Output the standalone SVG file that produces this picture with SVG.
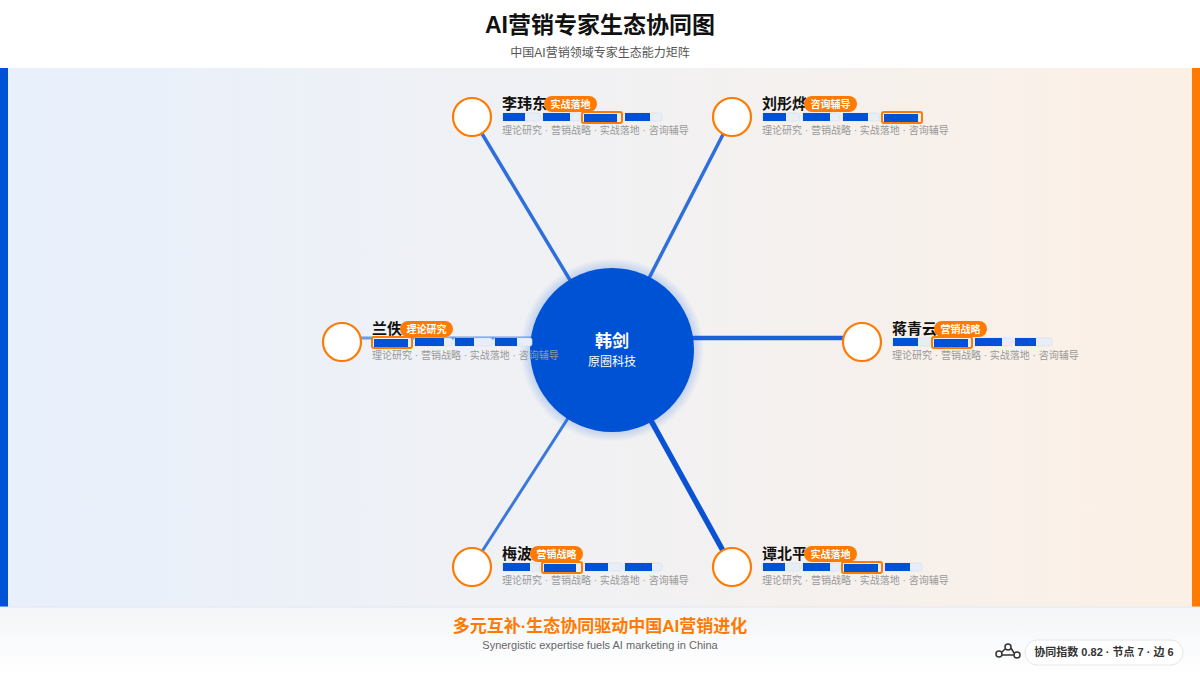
<svg xmlns="http://www.w3.org/2000/svg" width="1200" height="675" viewBox="0 0 1200 675">
<defs>
<linearGradient id="bg" x1="0" x2="1" y1="0" y2="0"><stop offset="0" stop-color="#e8f0fc"/><stop offset="0.5" stop-color="#f1f1f3"/><stop offset="1" stop-color="#fcf0e5"/></linearGradient>
<linearGradient id="ft" x1="0" x2="0" y1="0" y2="1"><stop offset="0" stop-color="#f3f5f8"/><stop offset="1" stop-color="#ffffff"/></linearGradient>
<radialGradient id="glow"><stop offset="0.8" stop-color="#0052d4" stop-opacity="0.35"/><stop offset="1" stop-color="#0052d4" stop-opacity="0"/></radialGradient>
<style>
text{font-family:"Liberation Sans","Noto Sans CJK SC",sans-serif}
.nm{font-size:15px;font-weight:bold;fill:#111}
.bd{fill:#ff7a00}
.bt{font-size:10px;font-weight:bold;fill:#fff;text-anchor:middle}
.tr{fill:#e8eef8;stroke:#d6deea;stroke-width:0.6}
.fl{fill:#0052d4}
.hl{fill:none;stroke:#ff7a00;stroke-width:2}
.sub{font-size:10px;fill:#999}
.nc{fill:#fff;stroke:#ff7a00;stroke-width:2.2}
.e{stroke-linecap:round}
</style>
</defs>
<rect width="1200" height="675" fill="#fff"/>
<rect x="0" y="68" width="1200" height="539" fill="url(#bg)"/>
<rect x="0" y="68" width="8" height="539" fill="#0052d4"/>
<rect x="1192" y="68" width="8" height="539" fill="#ff7a00"/>
<rect x="0" y="607" width="1200" height="68" fill="url(#ft)"/>
<line x1="0" y1="607" x2="1200" y2="607" stroke="#e3e7ee"/>
<text x="600" y="33" text-anchor="middle" font-size="23" font-weight="bold" fill="#111">AI营销专家生态协同图</text>
<text x="600" y="57" text-anchor="middle" font-size="12" fill="#555">中国AI营销领域专家生态能力矩阵</text>
<g id="connectors">
<line class="e" x1="612" y1="350" x2="472" y2="117" stroke="#2f6fdc" stroke-width="3.5"/>
<line class="e" x1="612" y1="350" x2="732" y2="117" stroke="#2f6fdc" stroke-width="3.5"/>
<line class="e" x1="612" y1="338" x2="342" y2="338" stroke="#6a9be6" stroke-width="3"/>
<line class="e" x1="612" y1="338" x2="862" y2="338" stroke="#1f5fd6" stroke-width="4.5"/>
<line class="e" x1="612" y1="350" x2="472" y2="567" stroke="#3a78dc" stroke-width="3"/>
<line class="e" x1="612" y1="350" x2="732" y2="567" stroke="#0a52d4" stroke-width="5.5"/>
</g>
<g id="center">
<circle cx="612" cy="350" r="92" fill="url(#glow)"/>
<circle cx="612" cy="350" r="82" fill="#0052d4"/>
<text x="612" y="347" text-anchor="middle" font-size="17" font-weight="bold" fill="#fff">韩剑</text>
<text x="612" y="366" text-anchor="middle" font-size="12" fill="#fff">原圈科技</text>
</g>
<g id="n1">
<circle class="nc" cx="472" cy="117" r="19"/>
<text class="nm" x="502" y="109">李玮东</text>
<rect class="bd" x="544" y="96" width="53" height="16" rx="8"/><text class="bt" x="570.5" y="107.5">实战落地</text>
<rect class="tr" x="502" y="113" width="38" height="8" rx="2"/><rect class="fl" x="503" y="113" width="22" height="8"/>
<rect class="tr" x="542" y="113" width="38" height="8" rx="2"/><rect class="fl" x="543" y="113" width="27" height="8"/>
<rect class="tr" x="582" y="113" width="40" height="10" rx="2"/><rect class="fl" x="584" y="114" width="33" height="8"/><rect class="hl" x="582" y="112" width="40" height="11" rx="2"/>
<rect class="tr" x="624" y="113" width="38" height="8" rx="2"/><rect class="fl" x="625" y="113" width="25" height="8"/>
<text class="sub" x="502" y="134">理论研究 · 营销战略 · 实战落地 · 咨询辅导</text>
</g>
<g id="n2">
<circle class="nc" cx="732" cy="117" r="19"/>
<text class="nm" x="762" y="109">刘彤烨</text>
<rect class="bd" x="804" y="96" width="53" height="16" rx="8"/><text class="bt" x="830.5" y="107.5">咨询辅导</text>
<rect class="tr" x="762" y="113" width="38" height="8" rx="2"/><rect class="fl" x="763" y="113" width="23" height="8"/>
<rect class="tr" x="802" y="113" width="38" height="8" rx="2"/><rect class="fl" x="803" y="113" width="27" height="8"/>
<rect class="tr" x="842" y="113" width="38" height="8" rx="2"/><rect class="fl" x="843" y="113" width="25" height="8"/>
<rect class="tr" x="882" y="112" width="40" height="11" rx="2"/><rect class="fl" x="884" y="114" width="34" height="8"/><rect class="hl" x="882" y="112" width="40" height="11" rx="2"/>
<text class="sub" x="762" y="134">理论研究 · 营销战略 · 实战落地 · 咨询辅导</text>
</g>
<g id="n3">
<circle class="nc" cx="342" cy="342" r="19"/>
<text class="nm" x="372" y="334">兰佚</text>
<rect class="bd" x="400" y="321" width="53" height="16" rx="8"/><text class="bt" x="426.5" y="332.5">理论研究</text>
<rect class="tr" x="372" y="337" width="40" height="11" rx="2"/><rect class="fl" x="374" y="339" width="34" height="8"/><rect class="hl" x="372" y="337" width="40" height="11" rx="2"/>
<rect class="tr" x="414" y="338" width="38" height="8" rx="2"/><rect class="fl" x="415" y="338" width="29" height="8"/>
<rect class="tr" x="454" y="338" width="38" height="8" rx="2"/><rect class="fl" x="455" y="338" width="19" height="8"/>
<rect class="tr" x="494" y="338" width="38" height="8" rx="2"/><rect class="fl" x="495" y="338" width="22" height="8"/>
<text class="sub" x="372" y="359">理论研究 · 营销战略 · 实战落地 · 咨询辅导</text>
</g>
<g id="n4">
<circle class="nc" cx="862" cy="342" r="19"/>
<text class="nm" x="892" y="334">蒋青云</text>
<rect class="bd" x="934" y="321" width="53" height="16" rx="8"/><text class="bt" x="960.5" y="332.5">营销战略</text>
<rect class="tr" x="892" y="338" width="38" height="8" rx="2"/><rect class="fl" x="893" y="338" width="25" height="8"/>
<rect class="tr" x="932" y="337" width="40" height="11" rx="2"/><rect class="fl" x="934" y="339" width="34" height="8"/><rect class="hl" x="932" y="337" width="40" height="11" rx="2"/>
<rect class="tr" x="974" y="338" width="38" height="8" rx="2"/><rect class="fl" x="975" y="338" width="27" height="8"/>
<rect class="tr" x="1014" y="338" width="38" height="8" rx="2"/><rect class="fl" x="1015" y="338" width="21" height="8"/>
<text class="sub" x="892" y="359">理论研究 · 营销战略 · 实战落地 · 咨询辅导</text>
</g>
<g id="n5">
<circle class="nc" cx="472" cy="567" r="19"/>
<text class="nm" x="502" y="559">梅波</text>
<rect class="bd" x="530" y="546" width="53" height="16" rx="8"/><text class="bt" x="556.5" y="557.5">营销战略</text>
<rect class="tr" x="502" y="563" width="38" height="8" rx="2"/><rect class="fl" x="503" y="563" width="27" height="8"/>
<rect class="tr" x="542" y="562" width="40" height="11" rx="2"/><rect class="fl" x="544" y="564" width="32" height="8"/><rect class="hl" x="542" y="562" width="40" height="11" rx="2"/>
<rect class="tr" x="584" y="563" width="38" height="8" rx="2"/><rect class="fl" x="585" y="563" width="23" height="8"/>
<rect class="tr" x="624" y="563" width="38" height="8" rx="2"/><rect class="fl" x="625" y="563" width="27" height="8"/>
<text class="sub" x="502" y="584">理论研究 · 营销战略 · 实战落地 · 咨询辅导</text>
</g>
<g id="n6">
<circle class="nc" cx="732" cy="567" r="19"/>
<text class="nm" x="762" y="559">谭北平</text>
<rect class="bd" x="804" y="546" width="53" height="16" rx="8"/><text class="bt" x="830.5" y="557.5">实战落地</text>
<rect class="tr" x="762" y="563" width="38" height="8" rx="2"/><rect class="fl" x="763" y="563" width="22" height="8"/>
<rect class="tr" x="802" y="563" width="38" height="8" rx="2"/><rect class="fl" x="803" y="563" width="27" height="8"/>
<rect class="tr" x="842" y="562" width="40" height="11" rx="2"/><rect class="fl" x="844" y="564" width="34" height="8"/><rect class="hl" x="842" y="562" width="40" height="11" rx="2"/>
<rect class="tr" x="884" y="563" width="38" height="8" rx="2"/><rect class="fl" x="885" y="563" width="25" height="8"/>
<text class="sub" x="762" y="584">理论研究 · 营销战略 · 实战落地 · 咨询辅导</text>
</g>
<text x="600" y="632" text-anchor="middle" font-size="17" font-weight="bold" fill="#ff7a00">多元互补·生态协同驱动中国AI营销进化</text>
<text x="600" y="649" text-anchor="middle" font-size="11" fill="#666">Synergistic expertise fuels AI marketing in China</text>
<g id="badge">
<g fill="none" stroke="#333" stroke-width="1.5"><circle cx="999" cy="654" r="3"/><circle cx="1008" cy="647" r="3"/><circle cx="1017" cy="655" r="3"/><path d="M1002 652 L1005 649 M1011 648 L1014 653 M1002 655 L1014 655"/></g>
<rect x="1025" y="640" width="158" height="25" rx="12.5" fill="#fff" stroke="#e3e6ea"/>
<text x="1104" y="656" text-anchor="middle" font-size="11" font-weight="bold" fill="#333">协同指数 0.82 · 节点 7 · 边 6</text>
</g>
</svg>
